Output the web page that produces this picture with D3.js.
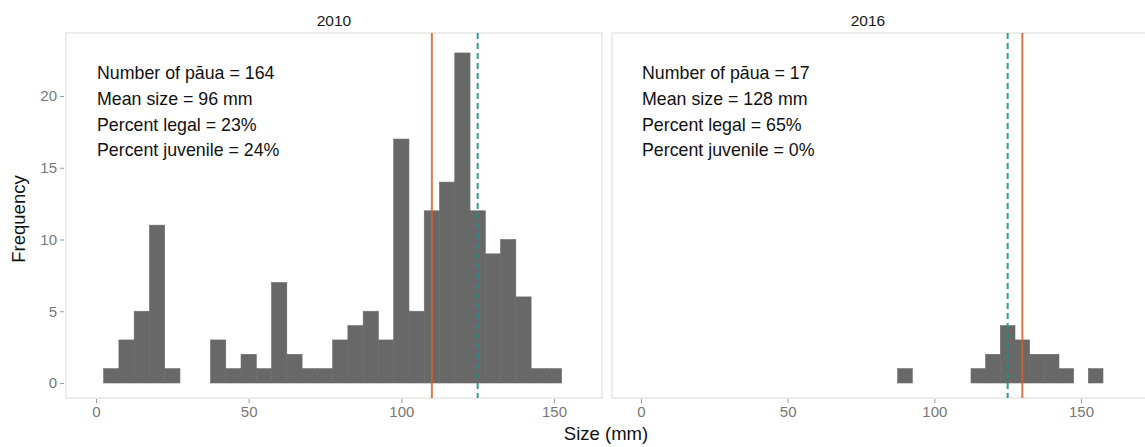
<!DOCTYPE html>
<html lang="en">
<head>
<meta charset="utf-8">
<script src="https://cdn.jsdelivr.net/npm/d3@7"></script>
<style>
  body { margin: 0; background: #fff; }
  text { font-family: "Liberation Sans", Arial, sans-serif; }
</style>
<title>Pāua size frequency 2010 vs 2016</title>
</head>
<body>
<script>
// size bins (bin centres, 5 mm wide) and counts
var bins2010 = [5,10,15,20,25,40,45,50,55,60,65,70,75,80,85,90,95,100,105,110,115,120,125,130,135,140,145,150];
var counts2010 = [1,3,5,11,1,3,1,2,1,7,2,1,1,3,4,5,3,17,5,12,14,23,12,9,10,6,1,1];
var bins2016 = [90,115,120,125,130,135,140,145,155];
var counts2016 = [1,1,2,4,3,2,2,1,1];

var years = ["2010", "2016"];
var orangeLine = [110, 130];   // solid orange reference line
var tealLine = [125, 125];     // dashed teal reference line
var notes2010 = ["Number of pāua = 164", "Mean size = 96 mm", "Percent legal = 23%", "Percent juvenile = 24%"];
var notes2016 = ["Number of pāua = 17", "Mean size = 128 mm", "Percent legal = 65%", "Percent juvenile = 0%"];
var xTicks = [0, 50, 100, 150];
var yTicks = [0, 5, 10, 15, 20];

var w = 1145, h = 447;
var binWidth = 5;

var svg = d3.select("body").append("svg")
  .attr("width", w)
  .attr("height", h);

svg.append("rect").attr("width", w).attr("height", h).attr("fill", "#fff");

var panelTop = 33, panelBottom = 398;
var panels = [
  { left: 66, right: 602, x0: 96, x150: 554, bins: bins2010, counts: counts2010, notes: notes2010 },
  { left: 612, right: 1150, x0: 641, x150: 1081, bins: bins2016, counts: counts2016, notes: notes2016 }
];

var yScale = d3.scaleLinear().domain([0, 20]).range([383, 96]);

svg.append("defs").selectAll("clipPath")
  .data(panels)
  .enter()
  .append("clipPath")
  .attr("id", function(d, i){ return "clip" + i; })
  .append("rect")
  .attr("x", function(d){ return d.left; })
  .attr("y", panelTop)
  .attr("width", function(d){ return d.right - d.left; })
  .attr("height", panelBottom - panelTop);

panels.forEach(function(p, i){
  var xScale = d3.scaleLinear().domain([0, 150]).range([p.x0, p.x150]);
  var g = svg.append("g");

  // panel border
  g.append("rect")
    .attr("x", p.left)
    .attr("y", panelTop)
    .attr("width", p.right - p.left)
    .attr("height", panelBottom - panelTop)
    .attr("fill", "#fff")
    .attr("stroke", "#e6e6e6")
    .attr("stroke-width", 1.5);

  var inner = g.append("g").attr("clip-path", "url(#clip" + i + ")");

  inner.selectAll("rect.bar")
    .data(p.bins)
    .enter()
    .append("rect")
    .attr("class", "bar")
    .attr("x", function(d){ return xScale(d - binWidth / 2); })
    .attr("width", function(d){ return xScale(d + binWidth / 2) - xScale(d - binWidth / 2); })
    .attr("y", function(d, j){ return yScale(p.counts[j]); })
    .attr("height", function(d, j){ return yScale(0) - yScale(p.counts[j]); })
    .attr("fill", "#686868")
    .attr("stroke", "#6c6c6c")
    .attr("stroke-width", 0.6);

  inner.append("line")
    .attr("x1", xScale(orangeLine[i])).attr("x2", xScale(orangeLine[i]))
    .attr("y1", panelTop).attr("y2", panelBottom)
    .attr("stroke", "#d4622a")
    .attr("stroke-width", 2)
    .attr("opacity", 0.85);

  inner.append("line")
    .attr("x1", xScale(tealLine[i])).attr("x2", xScale(tealLine[i]))
    .attr("y1", panelTop).attr("y2", panelBottom)
    .attr("stroke", "#1f918a")
    .attr("stroke-width", 2)
    .attr("stroke-dasharray", "6,4")
    .attr("opacity", 0.9);

  // annotation block
  g.selectAll("text.note")
    .data(p.notes)
    .enter()
    .append("text")
    .attr("class", "note")
    .attr("x", p.x0 + 1)
    .attr("y", function(d, j){ return 79 + j * 25.8; })
    .style("font-size", "17.8px")
    .attr("fill", "#111")
    .text(function(d){ return d; });

  // strip label
  svg.append("text")
    .attr("x", (p.left + (i === 0 ? p.right : 1124)) / 2)
    .attr("y", 26)
    .attr("text-anchor", "middle")
    .style("font-size", "15.5px")
    .attr("fill", "#1a1a1a")
    .text(years[i]);

  var xAxis = d3.axisBottom(xScale).tickValues(xTicks).tickSize(4).tickPadding(3);
  var ax = svg.append("g")
    .attr("transform", "translate(0," + (panelBottom + 1) + ")")
    .call(xAxis);
  ax.select(".domain").remove();
  ax.selectAll("line").attr("stroke", "#999");
  ax.selectAll("text").attr("fill", "#777").style("font-size", "15px");
});

var yAxis = d3.axisLeft(yScale).tickValues(yTicks).tickSize(4).tickPadding(3);
var ay = svg.append("g")
  .attr("transform", "translate(64,0)")
  .call(yAxis);
ay.select(".domain").remove();
ay.selectAll("line").attr("stroke", "#999");
ay.selectAll("text").attr("fill", "#777").style("font-size", "15px");

svg.append("text")
  .attr("transform", "translate(25,219) rotate(-90)")
  .attr("text-anchor", "middle")
  .style("font-size", "18.5px")
  .attr("fill", "#111")
  .text("Frequency");

svg.append("text")
  .attr("x", 606)
  .attr("y", 440)
  .attr("text-anchor", "middle")
  .style("font-size", "18.5px")
  .attr("fill", "#111")
  .text("Size (mm)");
</script>
</body>
</html>
